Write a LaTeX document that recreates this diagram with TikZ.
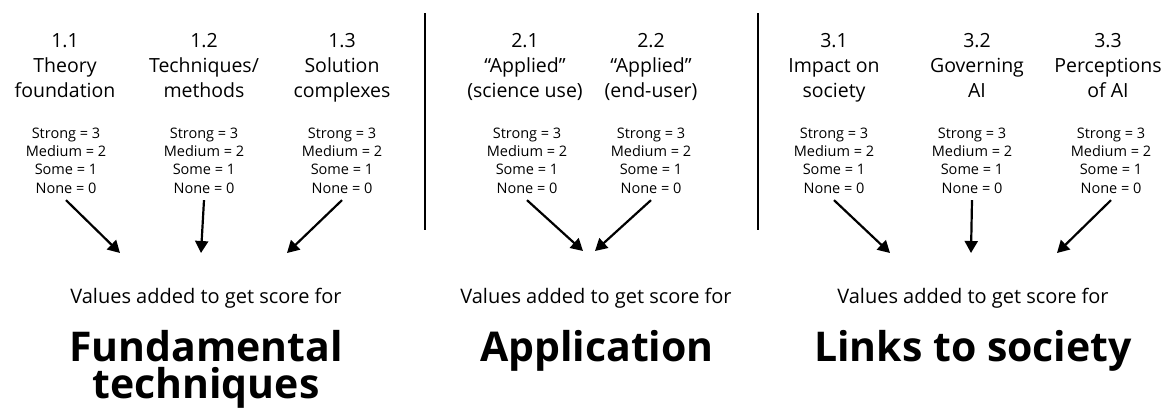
\documentclass[tikz,border=0pt]{standalone}
\usepackage{fontspec}
\setmainfont{Open Sans}
\usetikzlibrary{arrows.meta}
\begin{document}
\begin{tikzpicture}[x=1pt,y=-1pt,
  title/.style={font=\fontsize{19.5}{25}\selectfont, align=center, anchor=base, inner sep=0pt},
  scalebox/.style={font=\fontsize{14.5}{18.3}\selectfont, align=center, anchor=base, inner sep=0pt, outer sep=7pt},
  sub/.style={font=\fontsize{20}{24}\selectfont, anchor=base, inner sep=0pt},
  big/.style={font=\fontsize{41}{37}\selectfont\bfseries, align=center, anchor=base, inner sep=0pt},
  arr/.style={line width=2.2pt, -{Triangle[length=12pt,width=13pt]}},
  sep/.style={line width=2.2pt}]
\useasboundingbox (0,0) rectangle (1168,410);
% titles (anchor base = last line)
\node[title] (h11) at (65,97) {1.1\\Theory\\foundation};
\node[title] (h12) at (204,97) {1.2\\Techniques/\\methods};
\node[title] (h13) at (342,97) {1.3\\Solution\\complexes};
\node[title] (h21) at (525,97) {2.1\\``Applied''\\(science use)};
\node[title] (h22) at (651,97) {2.2\\``Applied''\\(end-user)};
\node[title] (h31) at (834,97) {3.1\\Impact on\\society};
\node[title] (h32) at (977,97) {3.2\\Governing\\AI};
\node[title] (h33) at (1108,97) {3.3\\Perceptions\\of AI};
% scales
\foreach \n/\x in {s11/66,s12/204,s13/342,s21/527,s22/651,s31/834,s32/972,s33/1111}
  \node[scalebox] (\n) at (\x,193) {Strong = 3\\Medium = 2\\Some = 1\\None = 0};
% arrow tips
\coordinate (t11) at (120,253);
\coordinate (t12) at (201,253);
\coordinate (t13) at (287,253);
\coordinate (t21) at (583,251);
\coordinate (t22) at (595,251);
\coordinate (t31) at (890,253);
\coordinate (t32) at (971,253);
\coordinate (t33) at (1057,253);
\draw[arr] (s11.south) -- (t11);
\draw[arr] (s12.south) -- (t12);
\draw[arr] (s13.south) -- (t13);
\draw[arr] (s21.south) -- (t21);
\draw[arr] (s22.south) -- (t22);
\draw[arr] (s31.south) -- (t31);
\draw[arr] (s32.south) -- (t32);
\draw[arr] (s33.south) -- (t33);
% separators
\coordinate (a1) at (425,13); \coordinate (b1) at (425,230);
\coordinate (a2) at (758,13); \coordinate (b2) at (758,230);
\draw[sep] (a1) -- (b1);
\draw[sep] (a2) -- (b2);
% bottom
\node[sub] (v1) at (206,303) {Values added to get score for};
\node[sub] (v2) at (596,303) {Values added to get score for};
\node[sub] (v3) at (973,303) {Values added to get score for};
\node[big] (g1) at (206,398) {Fundamental\\techniques};
\node[big] (g2) at (597,361) {Application};
\node[big] (g3) at (973,361) {Links to society};
\end{tikzpicture}
\end{document}
